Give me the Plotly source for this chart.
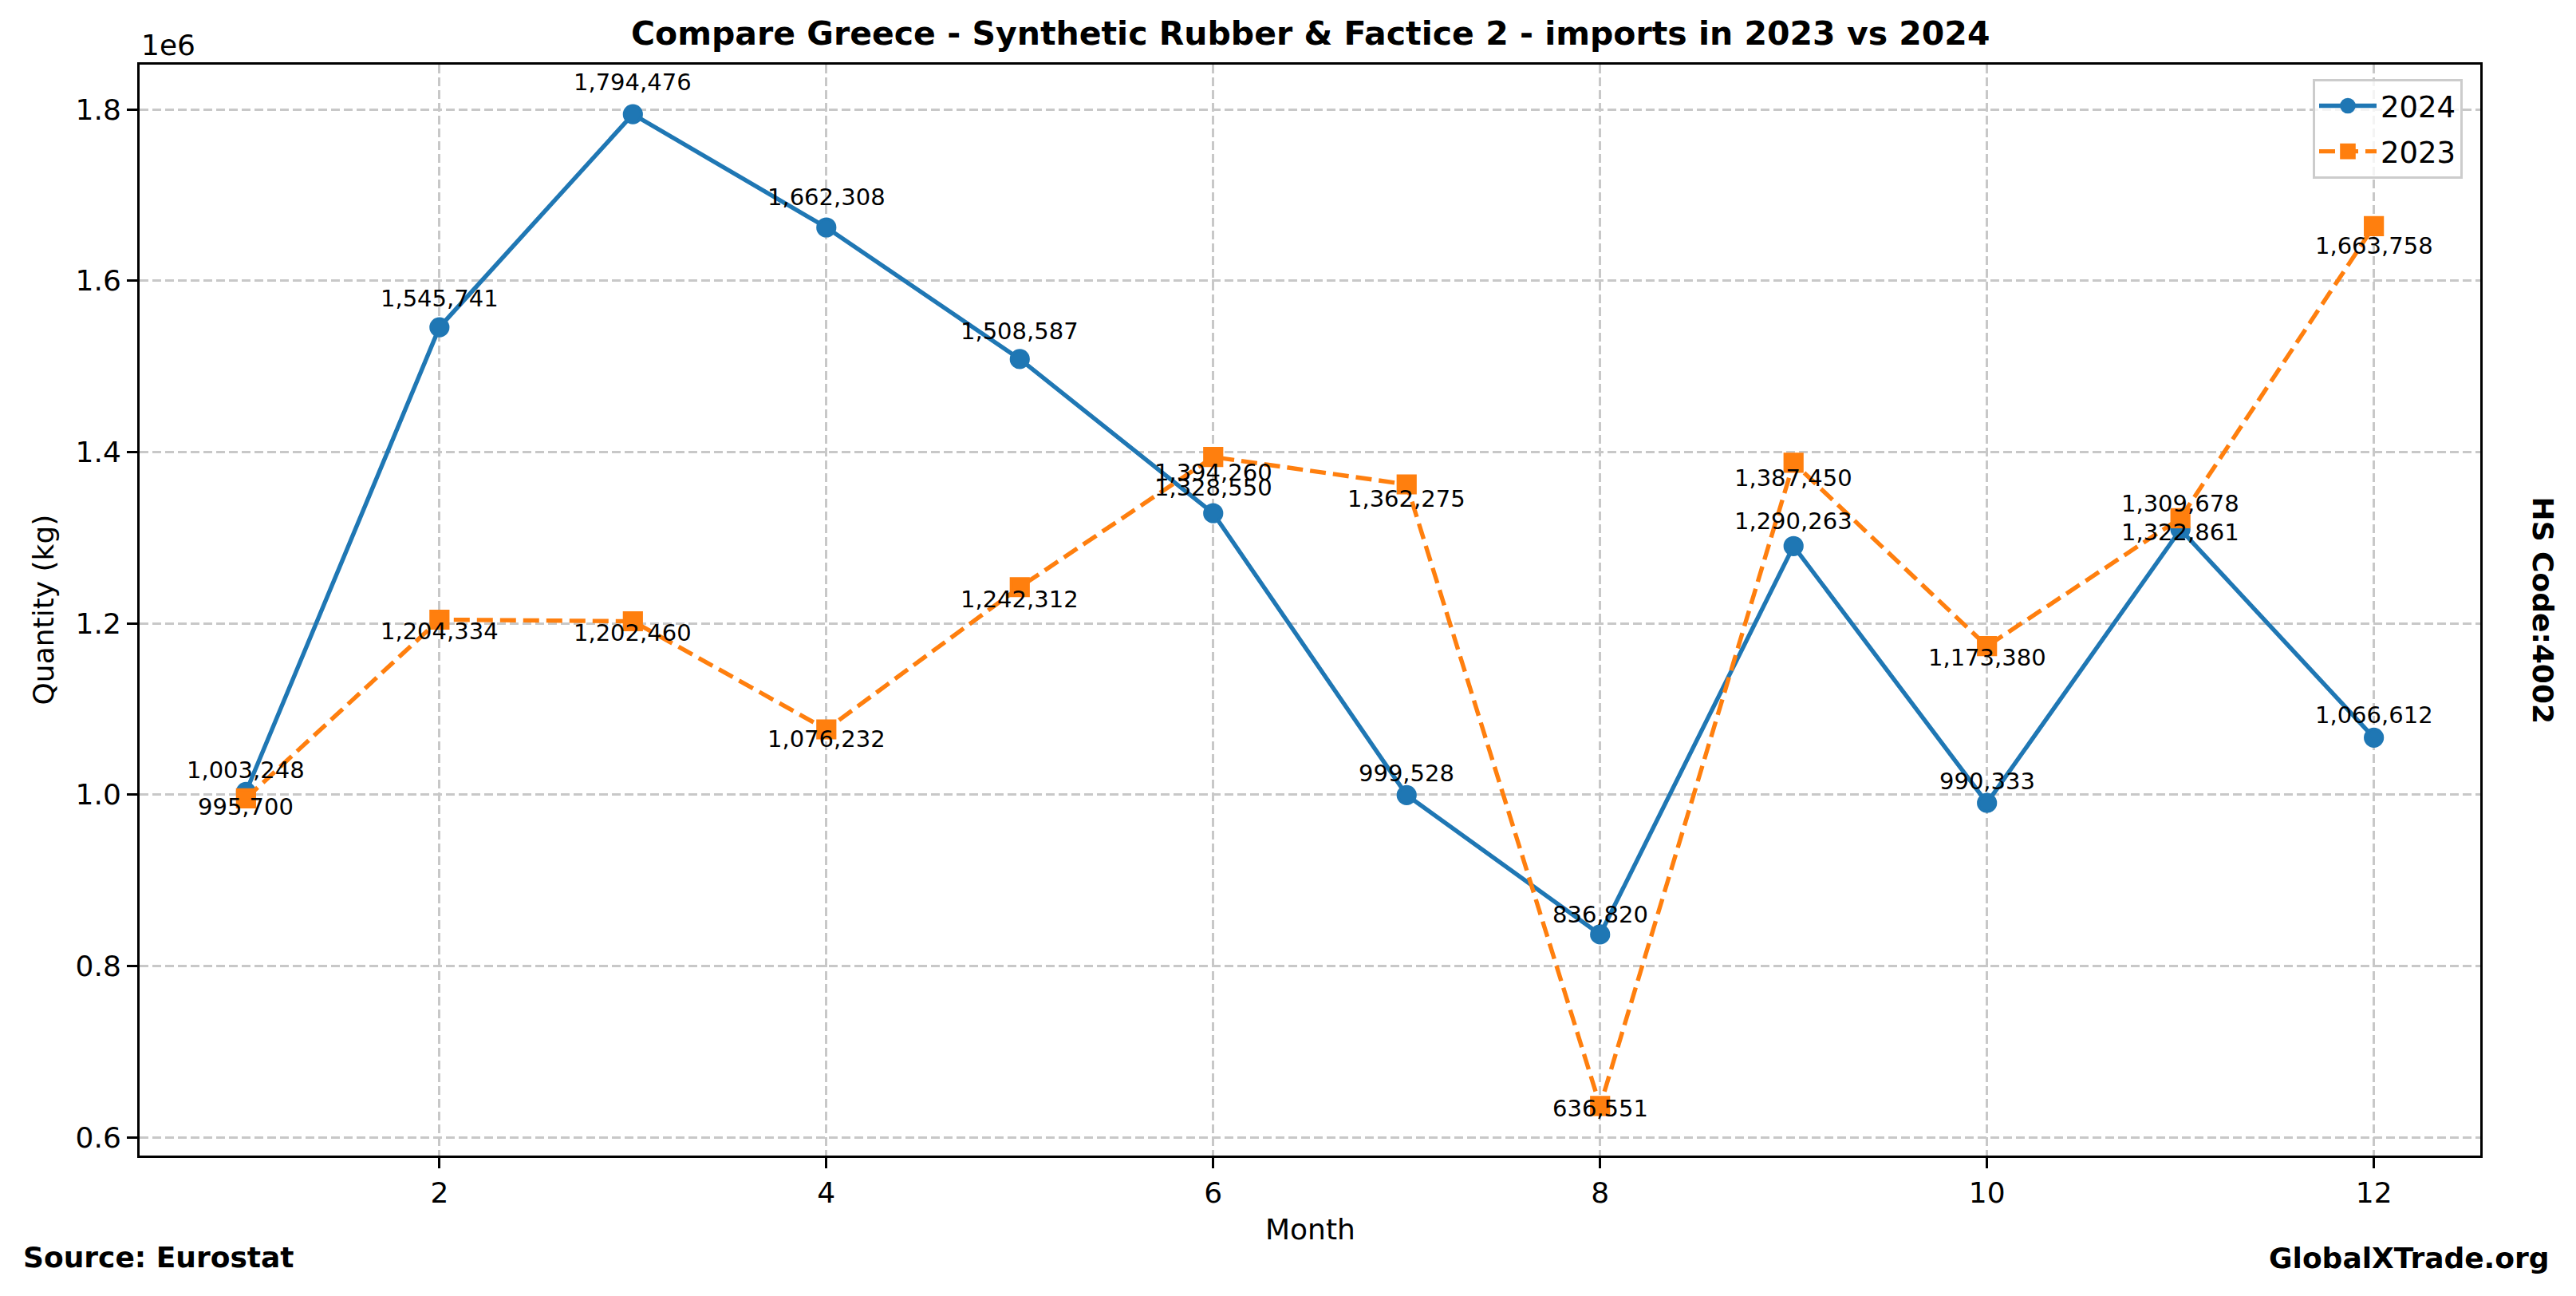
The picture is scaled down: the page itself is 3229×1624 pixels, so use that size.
import plotly.graph_objects as go

months = [1, 2, 3, 4, 5, 6, 7, 8, 9, 10, 11, 12]
imports_2024 = [1003248, 1545741, 1794476, 1662308, 1508587, 1328550,
                999528, 836820, 1290263, 990333, 1309678, 1066612]
imports_2023 = [995700, 1204334, 1202460, 1076232, 1242312, 1394260,
                1362275, 636551, 1387450, 1173380, 1322861, 1663758]
x_ticks = [2, 4, 6, 8, 10, 12]
y_tick_vals = [600000, 800000, 1000000, 1200000, 1400000, 1600000, 1800000]
y_tick_text = ["0.6", "0.8", "1.0", "1.2", "1.4", "1.6", "1.8"]

BLUE = "#1f77b4"
ORANGE = "#ff7f0e"
FONT = "DejaVu Sans"
GRID = "#c8c8c8"

W, H = 3229, 1624
L, R, T, B = 175, 120, 81, 176
PW, PH = W - L - R, H - T - B

allv = imports_2024 + imports_2023
lo, hi = min(allv), max(allv)
span = hi - lo
yr = [lo - 0.05 * span, hi + 0.05 * span]
xr = [months[0] - 0.05 * (months[-1] - months[0]), months[-1] + 0.05 * (months[-1] - months[0])]

fig = go.Figure()
fig.add_trace(go.Scatter(
    x=months, y=imports_2024, name="2024", mode="lines+markers", legendgroup="a",
    line=dict(color=BLUE, width=5.4),
    marker=dict(symbol="circle", size=21.6, color=BLUE, line=dict(color=BLUE, width=3.6)),
))
fig.add_trace(go.Scatter(
    x=months, y=imports_2023, name="2023", mode="lines+markers", legendgroup="b",
    line=dict(color=ORANGE, width=5.4, dash="20px,9px"),
    marker=dict(symbol="square", size=21.6, color=ORANGE, line=dict(color=ORANGE, width=3.6)),
))

ann = []
for m, v in zip(months, imports_2024):
    ann.append(dict(x=m, y=v * 1.015, xref="x", yref="y", text=f"{v:,}", showarrow=False,
                    xanchor="center", yanchor="middle", yshift=11,
                    font=dict(family=FONT, size=29, color="black")))
for m, v in zip(months, imports_2023):
    ann.append(dict(x=m, y=v * 0.98, xref="x", yref="y", text=f"{v:,}", showarrow=False,
                    xanchor="center", yanchor="middle", yshift=11,
                    font=dict(family=FONT, size=29, color="black")))

# title
ann.append(dict(x=0.5, y=1, xref="paper", yref="paper", yshift=T - 42, showarrow=False,
                text="<b>Compare Greece - Synthetic Rubber & Factice 2 - imports in 2023 vs 2024</b>",
                xanchor="center", yanchor="middle", font=dict(family=FONT, size=41, color="black")))
# offset text
ann.append(dict(x=0, y=1, xref="paper", yref="paper", xshift=0, yshift=T - 56, showarrow=False,
                text="1e6", xanchor="left", yanchor="middle", font=dict(family=FONT, size=36, color="black")))
# axis titles
ann.append(dict(x=0, y=0.5, xref="paper", yref="paper", xshift=54 - L, showarrow=False,
                text="Quantity (kg)", textangle=-90, xanchor="center", yanchor="middle",
                font=dict(family=FONT, size=36, color="black")))
ann.append(dict(x=0.5, y=0, xref="paper", yref="paper", yshift=-(1540 - (T + PH)), showarrow=False,
                text="Month", xanchor="center", yanchor="middle",
                font=dict(family=FONT, size=36, color="black")))
# footer texts
ann.append(dict(x=0, y=0, xref="paper", yref="paper", xshift=27 - L, yshift=-(1575 - (T + PH)),
                showarrow=False, text="<b>Source: Eurostat</b>", xanchor="left", yanchor="middle",
                font=dict(family=FONT, size=36, color="black")))
ann.append(dict(x=1, y=0, xref="paper", yref="paper", xshift=3198 - (L + PW), yshift=-(1576 - (T + PH)),
                showarrow=False, text="<b>GlobalXTrade.org</b>", xanchor="right", yanchor="middle",
                font=dict(family=FONT, size=36, color="black")))
ann.append(dict(x=1, y=0.5, xref="paper", yref="paper", xshift=3187 - (L + PW), showarrow=False,
                text="<b>HS Code:4002</b>", textangle=90, xanchor="center", yanchor="middle",
                font=dict(family=FONT, size=36, color="black")))

fig.update_layout(
    width=W, height=H,
    margin=dict(l=L, r=R, t=T, b=B, pad=0),
    paper_bgcolor="white", plot_bgcolor="white",
    font=dict(family=FONT, size=36, color="black"),
    showlegend=True,
    legend=dict(x=1 - 22 / PW, y=1 - 18 / PH, xanchor="right", yanchor="top",
                bgcolor="rgba(255,255,255,0.8)", bordercolor="#cccccc", borderwidth=3,
                font=dict(family=FONT, size=37, color="black"), itemwidth=72,
                tracegroupgap=6),
    annotations=ann,
    xaxis=dict(range=xr, tickvals=x_ticks, ticktext=[str(t) for t in x_ticks],
               showgrid=True, gridcolor=GRID, gridwidth=3, griddash="11px,5px",
               showline=True, mirror=True, linecolor="black", linewidth=3,
               ticks="outside", ticklen=13, tickwidth=3, tickcolor="black",
               tickfont=dict(family=FONT, size=36, color="black"), zeroline=False),
    yaxis=dict(range=yr, tickvals=y_tick_vals, ticktext=y_tick_text,
               showgrid=True, gridcolor=GRID, gridwidth=3, griddash="11px,5px",
               showline=True, mirror=True, linecolor="black", linewidth=3,
               ticks="outside", ticklen=13, tickwidth=3, tickcolor="black",
               tickfont=dict(family=FONT, size=36, color="black"), zeroline=False),
)

fig.write_html("out.html", config={"displayModeBar": False},
               post_script="document.body.style.margin='0px';")
